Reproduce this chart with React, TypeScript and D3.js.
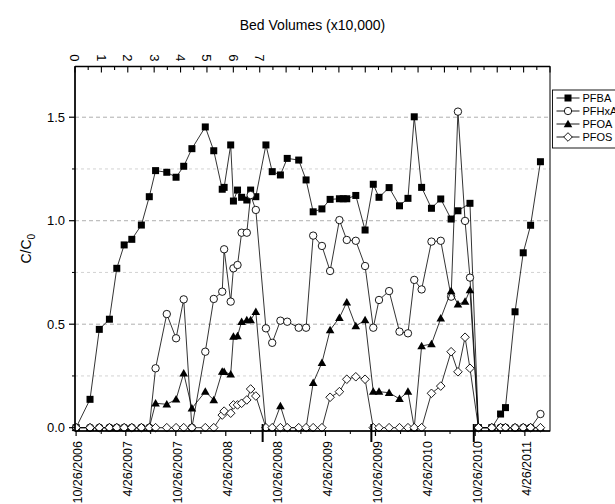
import React from 'react';
import * as d3 from 'd3';

// sampling dates shared by all four compounds
const sampleDates = [
  '2006-10-26', '2006-12-16', '2007-01-19', '2007-02-25', '2007-03-24', '2007-04-20',
  '2007-05-18', '2007-06-22', '2007-07-21', '2007-08-13', '2007-09-23', '2007-10-27',
  '2007-11-24', '2007-12-24', '2008-02-11', '2008-03-13', '2008-04-13', '2008-04-20',
  '2008-05-14', '2008-05-24', '2008-06-08', '2008-06-23', '2008-07-12', '2008-07-26',
  '2008-08-14', '2008-09-20', '2008-10-13', '2008-11-12', '2008-12-07', '2009-01-18',
  '2009-02-14', '2009-03-12', '2009-04-13', '2009-05-13', '2009-06-16', '2009-06-30',
  '2009-07-13', '2009-08-15', '2009-09-18', '2009-10-18', '2009-11-08', '2009-12-15',
  '2010-01-22', '2010-02-22', '2010-03-17', '2010-04-13', '2010-05-19', '2010-06-22',
  '2010-07-30', '2010-08-24', '2010-09-19', '2010-10-07', '2010-11-07', '2010-12-26',
  '2011-01-27', '2011-02-14', '2011-03-21', '2011-04-20', '2011-05-17', '2011-06-22'
];

const pfba = [
  0, 0.137, 0.475, 0.524, 0.77, 0.883,
  0.91, 0.979, 1.116, 1.242, 1.234, 1.21,
  1.263, 1.348, 1.453, 1.338, 1.152, 1.161,
  1.366, 1.095, 1.148, 1.113, 1.1, 1.148,
  1.116, 1.366, 1.237, 1.221, 1.301, 1.293,
  1.197, 1.043, 1.057, 1.103, 1.106, 1.106,
  1.106, 1.122, 0.955, 1.176, 1.113, 1.16,
  1.072, 1.108, 1.502, 1.161, 1.06, 1.105,
  1.008, 1.048, null, 1.084, 0, 0,
  0.066, 0.097, 0.56, 0.845, 0.978, 1.285
];

const pfhxa = [
  0, 0, 0, 0, 0, 0,
  0, 0, 0, 0.287, 0.549, 0.432,
  0.62, 0, 0.367, 0.622, 0.657, 0.862,
  0.609, 0.77, 0.786, 0.942, 0.942, 1.124,
  1.052, 0.48, 0.41, 0.517, 0.512, 0.483,
  0.483, 0.928, 0.878, 0.757, 1.003, null,
  0.907, 0.903, 0.781, 0.483, 0.617, 0.66,
  0.464, 0.456, 0.714, 0.668, 0.899, 0.903,
  0.633, 1.527, 0.999, 0.725, 0, 0,
  0, 0, 0, 0, 0, 0.066
];

const pfoa = [
  0, 0, 0, 0, 0, 0,
  0, 0, 0, 0.118, 0.113, 0.137,
  0.263, 0.094, 0.174, 0.134, 0.271, 0.27,
  0.258, 0.44, 0.443, 0.512, 0.52, 0.52,
  0.56, 0, 0, 0.105, 0, 0,
  0, 0.217, 0.314, 0.472, 0.531, null,
  0.606, 0.491, 0.52, 0.174, 0.174, 0.169,
  0.139, 0.174, 0, 0.395, 0.404, 0.528,
  0.66, 0.596, 0.609, 0.665, 0, 0,
  0, 0, 0, 0, 0, 0
];

const pfos = [
  0, 0, 0, 0, 0, 0,
  0, 0, 0, 0, 0, 0,
  0, 0, 0, 0, 0.061, 0.08,
  0.07, 0.11, 0.11, 0.118, 0.134, 0.187,
  0.153, 0, 0, 0, 0, 0,
  0, 0, 0, 0.147, 0.174, null,
  0.234, 0.246, 0.234, 0, 0, 0,
  0, 0, 0, 0, 0.166, 0.201,
  0.367, 0.27, 0.437, 0.287, 0, 0,
  0, 0, 0, 0, 0, 0
];

const dateTicks = [
  '2006-10-26', '2007-04-26', '2007-10-26', '2008-04-26', '2008-10-26',
  '2009-04-26', '2009-10-26', '2010-04-26', '2010-10-26', '2011-04-26'
];
const dateTickLabels = [
  '10/26/2006', '4/26/2007', '10/26/2007', '4/26/2008', '10/26/2008',
  '4/26/2009', '10/26/2009', '4/26/2010', '10/26/2010', '4/26/2011'
];
const minorDateTicks = [
  '2007-01-26', '2007-07-26', '2008-01-26', '2008-07-26', '2009-01-26',
  '2009-07-26', '2010-01-26', '2010-07-26', '2011-01-26'
];
// column change-outs marked on the time axis
const changeDates = ['2008-09-08', '2009-10-11', '2010-10-21'];

const bvLabels = [0, 1, 2, 3, 4, 5, 6, 7];
const yTicks = [0, 0.5, 1.0, 1.5];
const yMinor = [0.25, 0.75, 1.25];

const FONT = '"Liberation Sans", Arial, sans-serif';

const parse = d3.timeParse('%Y-%m-%d');

const Marker = ({type, cx, cy}: {type: string, cx: number, cy: number}) => {
  if (type === 'square')
    return <rect x={cx - 3.5} y={cy - 3.5} width={7} height={7} fill="#000" />;
  if (type === 'circle')
    return <circle cx={cx} cy={cy} r={3.7} fill="#fff" stroke="#000" strokeWidth={0.9} />;
  if (type === 'triangle')
    return <path d={`M${cx},${cy - 4.3}L${cx + 4.3},${cy + 3.2}L${cx - 4.3},${cy + 3.2}Z`} fill="#000" />;
  return <path d={`M${cx},${cy - 4.3}L${cx + 4.3},${cy}L${cx},${cy + 4.3}L${cx - 4.3},${cy}Z`}
    fill="#fff" stroke="#000" strokeWidth={0.9} />;
};

export default function App() {
  const W = 615, H = 504;
  const margin = {top: 66.5, right: 65, bottom: 73, left: 75};
  const iw = W - margin.left - margin.right;
  const ih = H - margin.top - margin.bottom;

  const x = d3.scaleTime()
    .domain([parse('2006-10-22') as Date, parse('2011-07-27') as Date])
    .range([0, iw]);
  const y = d3.scaleLinear().domain([-0.016, 1.745]).range([ih, 0]);
  const bv = d3.scaleLinear().domain([0, 18]).range([0, iw]);

  const dates = sampleDates.map(d => parse(d) as Date);

  const series = [
    {name: 'PFBA', values: pfba, symbol: 'square'},
    {name: 'PFHxA', values: pfhxa, symbol: 'circle'},
    {name: 'PFOA', values: pfoa, symbol: 'triangle'},
    {name: 'PFOS', values: pfos, symbol: 'diamond'}
  ];

  const line = d3.line<[Date, number]>()
    .x(d => x(d[0]))
    .y(d => y(d[1]));

  const bvTicks = d3.range(0, 18.01, 0.5);

  return (
    <svg width={W} height={H} style={{position: 'absolute', left: 0, top: 0, background: '#fff'}}
      fontFamily={FONT}>
      <text x={margin.left + iw / 2} y={30} textAnchor="middle" fontSize={14}>Bed Volumes (x10,000)</text>

      <g transform={`translate(${margin.left},${margin.top})`}>
        {/* grid */}
        {yMinor.map(v => (
          <line key={'gm' + v} x1={0} x2={iw} y1={y(v)} y2={y(v)} stroke="#c8c8c8"
            strokeWidth={0.8} strokeDasharray="3,3" />
        ))}
        {yTicks.filter(v => v > 0).map(v => (
          <line key={'g' + v} x1={0} x2={iw} y1={y(v)} y2={y(v)} stroke="#9a9a9a"
            strokeWidth={0.8} strokeDasharray="4,3" />
        ))}

        {/* series */}
        {series.map(s => {
          const pts = dates.map((d, i) => [d, s.values[i]] as [Date, number | null])
            .filter(p => p[1] !== null) as [Date, number][];
          return (
            <g key={s.name}>
              <path d={line(pts) || ''} fill="none" stroke="#000" strokeWidth={0.8} />
              {pts.map((p, i) => <Marker key={i} type={s.symbol} cx={x(p[0])} cy={y(p[1])} />)}
            </g>
          );
        })}

        {/* frame */}
        <rect x={0} y={0} width={iw} height={ih} fill="none" stroke="#000" strokeWidth={1} />
        <line x1={0} x2={0} y1={0} y2={ih} stroke="#000" strokeWidth={1.5} />
        <line x1={0} x2={iw} y1={ih} y2={ih} stroke="#000" strokeWidth={1.5} />
        <line x1={0} x2={iw} y1={0} y2={0} stroke="#000" strokeWidth={1.5} />

        {/* left axis */}
        {yTicks.map(v => (
          <g key={'yt' + v} transform={`translate(0,${y(v)})`}>
            <line x1={-6} x2={0} stroke="#000" strokeWidth={1.2} />
            <text x={-10} dy="0.35em" textAnchor="end" fontSize={13}>{v.toFixed(1)}</text>
          </g>
        ))}
        {yMinor.map(v => (
          <line key={'ym' + v} x1={-3} x2={0} y1={y(v)} y2={y(v)} stroke="#000" strokeWidth={1} />
        ))}
        <text transform={`translate(${-44},${ih / 2}) rotate(-90)`} textAnchor="middle" fontSize={14}>
          C/C<tspan fontSize={10} dy={4}>0</tspan>
        </text>

        {/* bottom time axis */}
        {dateTicks.map((d, i) => {
          const px = x(parse(d) as Date);
          return (
            <g key={d} transform={`translate(${px},${ih})`}>
              <line y1={0} y2={5} stroke="#000" strokeWidth={1.2} />
              <text transform="translate(2,10) rotate(-90)" textAnchor="end" dy="0.35em"
                fontSize={12.5}>{dateTickLabels[i]}</text>
            </g>
          );
        })}
        {minorDateTicks.map(d => (
          <line key={d} x1={x(parse(d) as Date)} x2={x(parse(d) as Date)} y1={ih} y2={ih + 3}
            stroke="#000" strokeWidth={1} />
        ))}
        {changeDates.map(d => (
          <line key={'c' + d} x1={x(parse(d) as Date)} x2={x(parse(d) as Date)} y1={ih - 7} y2={ih + 11}
            stroke="#000" strokeWidth={2} />
        ))}

        {/* top bed volume axis */}
        {bvTicks.map(v => (
          <line key={'bv' + v} x1={bv(v)} x2={bv(v)} y1={0} y2={Number.isInteger(v) ? 6 : 3.5}
            stroke="#000" strokeWidth={1.1} />
        ))}
        {bvLabels.map(v => (
          <text key={'bl' + v} transform={`translate(${bv(v)},-5) rotate(90)`} textAnchor="end"
            dy="0.35em" fontSize={13}>{v}</text>
        ))}
      </g>

      {/* legend */}
      <g transform="translate(552.5,90)">
        <rect x={0} y={0} width={70} height={58} fill="#fff" stroke="#000" strokeWidth={0.9} />
        {series.map((s, i) => (
          <g key={s.name} transform={`translate(0,${8 + i * 13})`}>
            <line x1={4} x2={27} stroke="#000" strokeWidth={0.9} />
            <Marker type={s.symbol} cx={15.5} cy={0} />
            <text x={30} dy="0.35em" fontSize={11}>{s.name}</text>
          </g>
        ))}
      </g>
    </svg>
  );
}
